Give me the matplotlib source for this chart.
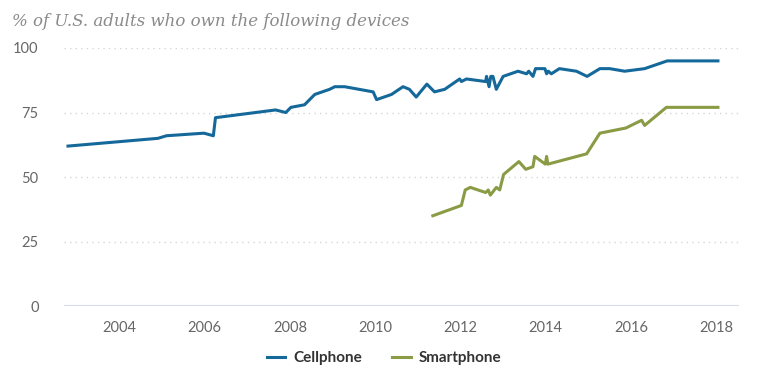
import matplotlib.pyplot as plt

# === Data ===
cell_years = [2002.79, 2004.90, 2005.10, 2005.98, 2006.20, 2006.25, 2007.66, 2007.90,
              2008.02, 2008.34, 2008.58, 2008.93, 2009.05, 2009.28, 2009.95, 2010.03,
              2010.38, 2010.65, 2010.80, 2010.96, 2011.21, 2011.39, 2011.63, 2011.98,
              2012.02, 2012.14, 2012.59, 2012.61, 2012.67, 2012.71, 2012.76, 2012.84,
              2013.00, 2013.35, 2013.55, 2013.60, 2013.70, 2013.76, 2013.98, 2014.02,
              2014.06, 2014.13, 2014.32, 2014.72, 2014.97, 2015.27, 2015.50, 2015.85,
              2016.32, 2016.85, 2018.04]
cell_pct = [62, 65, 66, 67, 66, 73, 76, 75,
            77, 78, 82, 84, 85, 85, 83, 80,
            82, 85, 84, 81, 86, 83, 84, 88,
            87, 88, 87, 89, 85, 89, 89, 84,
            89, 91, 90, 91, 89, 92, 92, 90,
            91, 90, 92, 91, 89, 92, 92, 91,
            92, 95, 95]

smart_years = [2011.35, 2012.02, 2012.11, 2012.23, 2012.59, 2012.65, 2012.70, 2012.84,
               2012.92, 2013.01, 2013.37, 2013.53, 2013.70, 2013.74, 2013.99, 2014.02,
               2014.05, 2014.96, 2015.27, 2015.88, 2016.25, 2016.32, 2016.83, 2018.04]
smart_pct = [35, 39, 45, 46, 44, 45, 43, 46,
             45, 51, 56, 53, 54, 58, 55, 58,
             55, 59, 67, 69, 72, 70, 77, 77]

x_ticks = [2004, 2006, 2008, 2010, 2012, 2014, 2016, 2018]
y_ticks = [0, 25, 50, 75, 100]

# === Style ===
tick_font = ["Lato", "DejaVu Sans"]
blue = "#14689a"
olive = "#8a9b45"

fig = plt.figure(figsize=(7.68, 3.87), dpi=100)
ax = fig.add_axes([0.083, 0.209, 0.879, 0.667])

ax.plot(cell_years, cell_pct, color=blue, lw=2.2, label="Cellphone")
ax.plot(smart_years, smart_pct, color=olive, lw=2.2, label="Smartphone")

ax.set_xlim(2002.69, 2018.53)
ax.set_ylim(0, 100)
ax.set_xticks(x_ticks)
ax.set_xticklabels([str(t) for t in x_ticks], family=tick_font, fontsize=10.5, color="#666666")
ax.set_yticks(y_ticks)
ax.set_yticklabels([str(t) for t in y_ticks], family=tick_font, fontsize=10.5, color="#666666")
ax.tick_params(axis="both", length=0)
ax.tick_params(axis="y", pad=18)
ax.tick_params(axis="x", pad=11)

for v in [25, 50, 75, 100]:
    ax.axhline(v, color="#d6d6d6", lw=1, ls=(0, (1, 3)), zorder=0)
ax.axhline(0, color="#d5dbea", lw=1.5, zorder=0)

for s in ax.spines.values():
    s.set_visible(False)

fig.text(0.016, 0.945, "% of U.S. adults who own the following devices",
         family="DejaVu Serif", style="italic", fontsize=12, color="#8a8a8a",
         ha="left", va="center")

leg = fig.legend(loc="center", bbox_to_anchor=(0.5, 0.075), ncol=2, frameon=False,
                 handlelength=1.2, columnspacing=2.0, handletextpad=0.5,
                 prop={"family": tick_font, "weight": "bold", "size": 11})
for t in leg.get_texts():
    t.set_color("#333333")

plt.savefig("out.png", dpi=100)
plt.close()
